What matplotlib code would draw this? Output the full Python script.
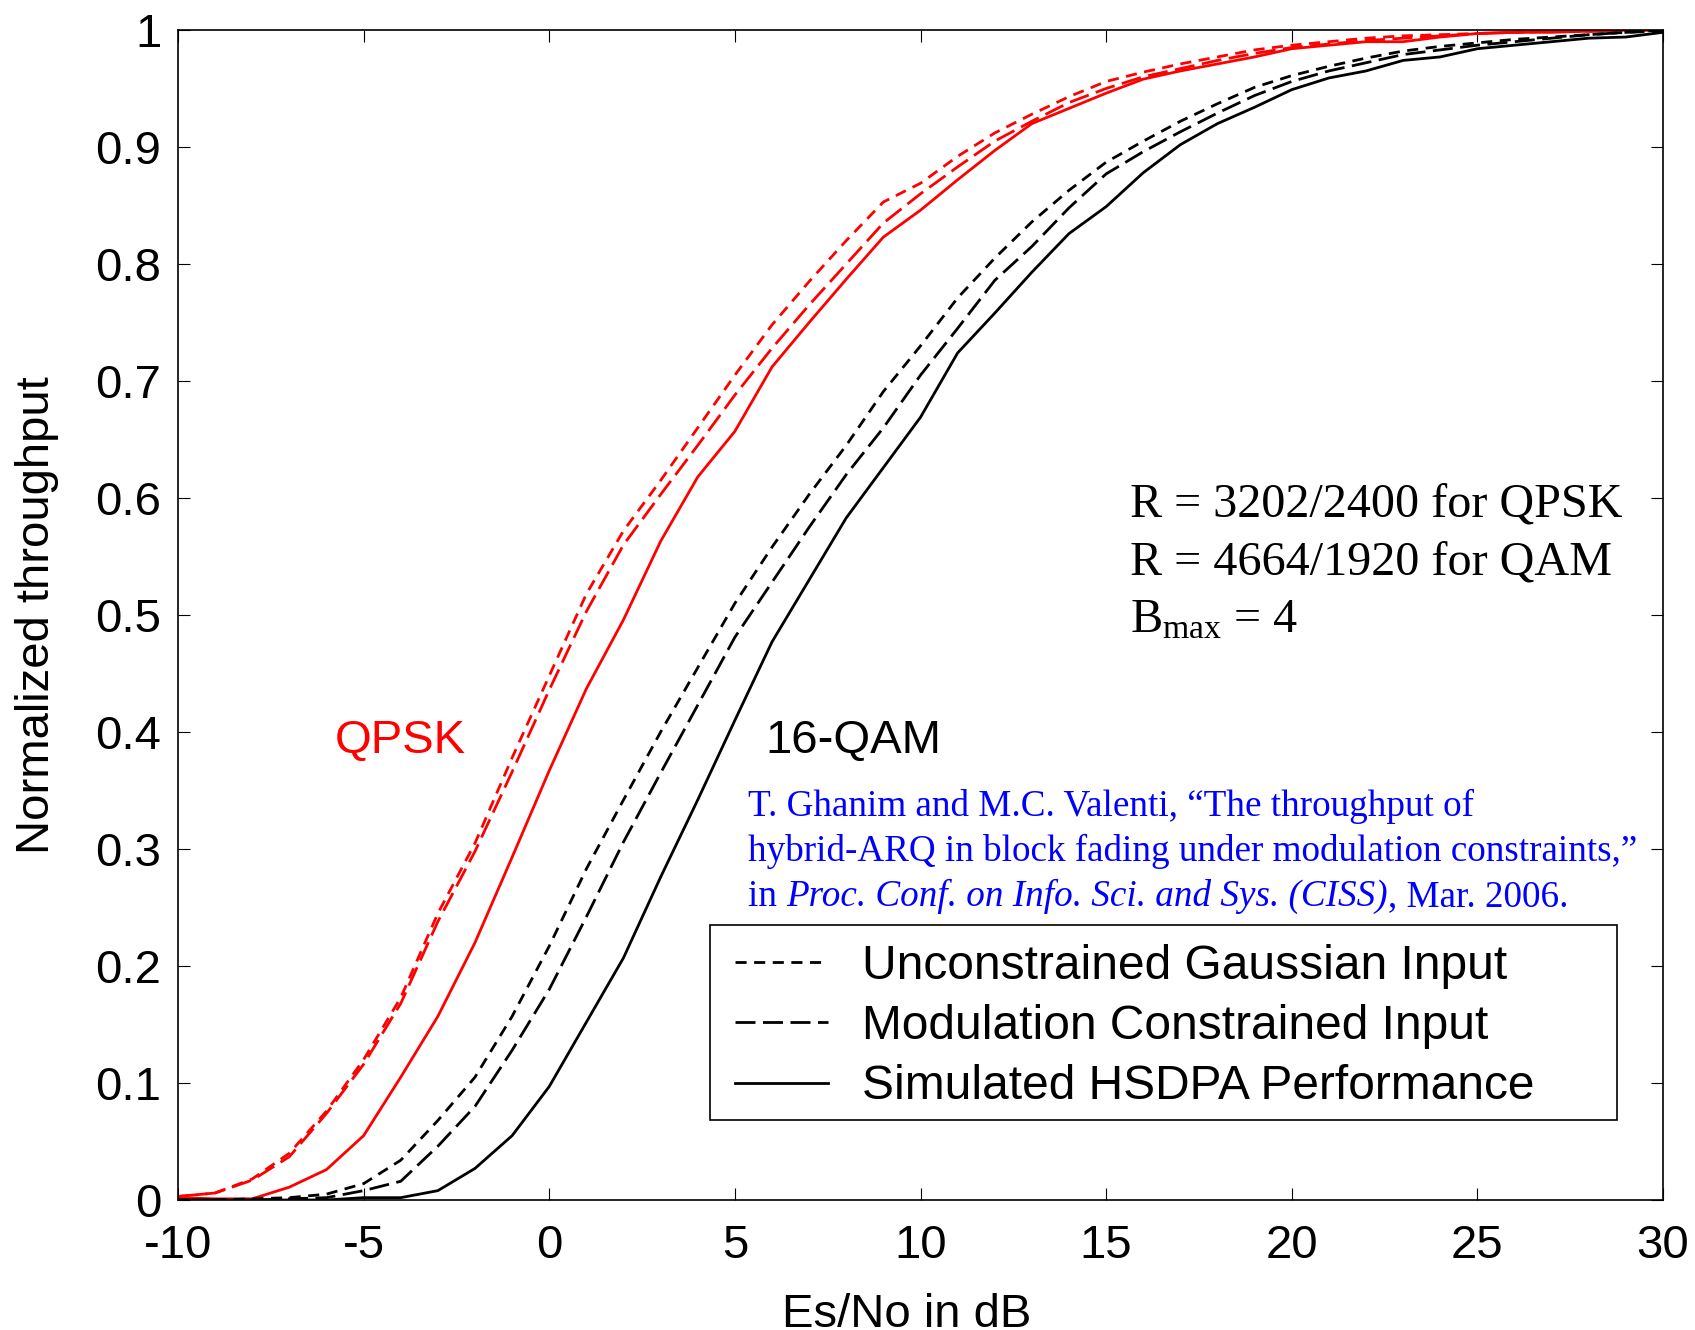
import matplotlib
matplotlib.use("Agg")
import matplotlib.pyplot as plt
from matplotlib.lines import Line2D
from matplotlib.patches import Rectangle

plt.rcParams.update({
    'font.family': 'Liberation Sans',
    'mathtext.fontset': 'custom',
    'mathtext.rm': 'Liberation Serif',
    'mathtext.it': 'Liberation Serif:italic',
})

# ---------------------------------------------------------------------------
# data
# ---------------------------------------------------------------------------
es_no = list(range(-10, 31))

qpsk_gauss = [0.003, 0.006, 0.018, 0.040, 0.076, 0.120, 0.173, 0.245, 0.305, 0.378,
              0.448, 0.518, 0.572, 0.615, 0.660, 0.705, 0.748, 0.785, 0.820, 0.853,
              0.869, 0.892, 0.912, 0.928, 0.943, 0.956, 0.964, 0.971, 0.977, 0.983,
              0.987, 0.990, 0.993, 0.995, 0.996, 0.997, 0.998, 0.999, 0.999, 1.000, 1.000]
qpsk_mod = [0.003, 0.006, 0.017, 0.037, 0.074, 0.116, 0.168, 0.238, 0.298, 0.366,
            0.436, 0.503, 0.560, 0.603, 0.645, 0.688, 0.728, 0.765, 0.800, 0.835,
            0.860, 0.883, 0.905, 0.922, 0.938, 0.950, 0.960, 0.967, 0.974, 0.980,
            0.985, 0.988, 0.991, 0.993, 0.995, 0.997, 0.998, 0.999, 0.999, 1.000, 1.000]
qpsk_hsdpa = [0.002, 0.001, 0.001, 0.011, 0.026, 0.055, 0.105, 0.157, 0.220, 0.293,
              0.367, 0.437, 0.496, 0.563, 0.618, 0.657, 0.712, 0.750, 0.787, 0.823,
              0.846, 0.872, 0.897, 0.920, 0.933, 0.946, 0.958, 0.965, 0.971, 0.977,
              0.984, 0.987, 0.990, 0.990, 0.994, 0.997, 0.998, 0.998, 0.999, 1.000, 1.000]

qam_gauss = [0.000, 0.000, 0.001, 0.002, 0.005, 0.014, 0.034, 0.068, 0.105, 0.157,
             0.217, 0.283, 0.342, 0.400, 0.455, 0.510, 0.558, 0.603, 0.645, 0.691,
             0.730, 0.771, 0.805, 0.836, 0.863, 0.887, 0.905, 0.922, 0.937, 0.951,
             0.961, 0.969, 0.976, 0.982, 0.986, 0.989, 0.992, 0.994, 0.996, 0.998, 1.000]
qam_mod = [0.000, 0.000, 0.000, 0.001, 0.002, 0.008, 0.016, 0.046, 0.080, 0.128,
           0.180, 0.242, 0.306, 0.365, 0.423, 0.481, 0.528, 0.575, 0.620, 0.660,
           0.705, 0.745, 0.786, 0.815, 0.848, 0.877, 0.896, 0.913, 0.929, 0.944,
           0.956, 0.965, 0.972, 0.979, 0.983, 0.987, 0.990, 0.993, 0.996, 0.998, 0.999]
qam_hsdpa = [0.000, 0.000, 0.000, 0.000, 0.000, 0.002, 0.002, 0.008, 0.027, 0.055,
             0.097, 0.152, 0.207, 0.276, 0.342, 0.410, 0.477, 0.530, 0.583, 0.626,
             0.669, 0.724, 0.758, 0.793, 0.826, 0.849, 0.878, 0.902, 0.920, 0.934,
             0.949, 0.959, 0.965, 0.974, 0.977, 0.984, 0.987, 0.990, 0.993, 0.994, 0.998]

legend_labels = ['Unconstrained Gaussian Input',
                 'Modulation Constrained Input',
                 'Simulated HSDPA Performance']
x_ticks = [-10, -5, 0, 5, 10, 15, 20, 25, 30]
y_ticks = [0, 0.1, 0.2, 0.3, 0.4, 0.5, 0.6, 0.7, 0.8, 0.9, 1]
y_tick_labels = ['0', '0.1', '0.2', '0.3', '0.4', '0.5', '0.6', '0.7', '0.8', '0.9', '1']

# ---------------------------------------------------------------------------
# styles
# ---------------------------------------------------------------------------
LW = 2.0
DOT = (0, (4.0, 2.7))
DASH = (0, (7.2, 2.7))
FS = 34

fig = plt.figure(figsize=(16.95, 13.3), dpi=100)
ax = fig.add_axes([178 / 1695, 130 / 1330, 1485 / 1695, 1170 / 1330])

ax.plot(es_no, qpsk_gauss, color='red', lw=LW, linestyle=DOT)
ax.plot(es_no, qpsk_mod, color='red', lw=LW, linestyle=DASH)
ax.plot(es_no, qpsk_hsdpa, color='red', lw=LW, linestyle='-')
ax.plot(es_no, qam_gauss, color='black', lw=LW, linestyle=DOT)
ax.plot(es_no, qam_mod, color='black', lw=LW, linestyle=DASH)
ax.plot(es_no, qam_hsdpa, color='black', lw=LW, linestyle='-')

ax.set_xlim(-10, 30)
ax.set_ylim(0, 1)
ax.set_xticks(x_ticks)
ax.set_xticklabels([str(t) for t in x_ticks])
ax.set_yticks(y_ticks)
ax.set_yticklabels(y_tick_labels)
ax.tick_params(direction='in', top=True, right=True, length=8.5, width=0.8,
               labelsize=FS)
ax.tick_params(axis='x', pad=17)
ax.tick_params(axis='y', pad=12)
for sp in ax.spines.values():
    sp.set_linewidth(1.2)

ax.set_xlabel('Es/No in dB', fontsize=FS, labelpad=18)
ax.xaxis.label.set_x(0.4906)
ax.set_ylabel('Normalized throughput', fontsize=FS, labelpad=26)

# curve family labels
ax.text(-5.77, 0.382, 'QPSK', color='red', fontsize=FS, va='baseline')
ax.text(5.82, 0.382, '16-QAM', color='black', fontsize=FS, va='baseline')

# parameters
serif = 'Liberation Serif'
pfs = 34.7
ax.text(15.63, 0.5846, 'R = 3202/2400 for QPSK', family=serif, fontsize=pfs, va='baseline')
ax.text(15.63, 0.535, 'R = 4664/1920 for QAM', family=serif, fontsize=pfs, va='baseline')
ax.text(15.63, 0.4855, r'B$_{\mathrm{max}}$ = 4', family=serif, fontsize=pfs, va='baseline')

# citation
cfs = 26.7
blue = '#0000ff'
ax.text(5.36, 0.328, 'T. Ghanim and M.C. Valenti, \u201cThe throughput of',
        family=serif, fontsize=cfs, color=blue, va='baseline')
ax.text(5.36, 0.290, 'hybrid-ARQ in block fading under modulation constraints,\u201d',
        family=serif, fontsize=cfs, color=blue, va='baseline')
t1 = ax.text(5.36, 0.2513, 'in ', family=serif, fontsize=cfs, color=blue, va='baseline')
t2 = ax.annotate('Proc. Conf. on Info. Sci. and Sys. (CISS)', xy=(1, 0), xycoords=t1,
                 family=serif, style='italic', fontsize=cfs, color=blue, va='bottom')
ax.annotate(', Mar. 2006.', xy=(1, 0), xycoords=t2,
            family=serif, fontsize=cfs, color=blue, va='bottom')

# legend: frame drawn separately so the box can be wider than its content
ax.add_patch(Rectangle((0.3585, 0.0684), 0.6105, 0.1663, transform=ax.transAxes,
                       facecolor='white', edgecolor='black', lw=1.2, zorder=4.5))
handles = [Line2D([], [], color='black', lw=LW, linestyle=DOT),
           Line2D([], [], color='black', lw=LW, linestyle=DASH),
           Line2D([], [], color='black', lw=LW, linestyle='-')]
ax.legend(handles, legend_labels, loc='upper left',
          bbox_to_anchor=(0.375, 0.219), frameon=False,
          fontsize=34.5, borderpad=0, labelspacing=0.32, handlelength=1.95,
          handletextpad=0.7, borderaxespad=0)

fig.savefig('out.png', dpi=100)
